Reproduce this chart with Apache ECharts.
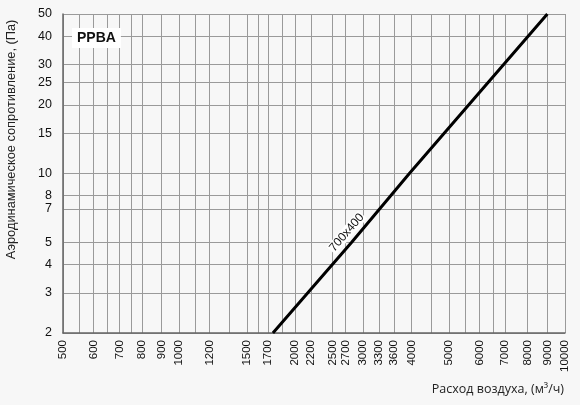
<!DOCTYPE html>
<html>
<head>
<meta charset="utf-8">
<script src="https://cdn.jsdelivr.net/npm/echarts@6/dist/echarts.min.js"></script>
<style>
  html, body { margin: 0; padding: 0; background: #f7f7f7; }
  #chart { width: 580px; height: 405px; }
</style>
</head>
<body>
<div id="chart"></div>
<script>
// расход воздуха, м3/ч
var xLabels = [500, 600, 700, 800, 900, 1000, 1200, 1500, 1700, 2000, 2200, 2500, 2700,
               3000, 3300, 3600, 4000, 5000, 6000, 7000, 8000, 9000, 10000];
var xGrid = [500, 550, 600, 650, 700, 750, 800, 900, 1000, 1100, 1200, 1350, 1500, 1600, 1700,
             1850, 2000, 2200, 2500, 2700, 3000, 3300, 3600, 4000, 4500, 5000, 5500, 6000, 6500,
             7000, 8000, 9000, 10000];
// сопротивление, Па
var yLabels = [2, 3, 4, 5, 7, 8, 10, 15, 20, 25, 30, 40, 50];

// 700x400
var flow700x400 = [1750, 2800, 3950, 9000];
var loss700x400 = [2, 5, 10, 50];

var chart = echarts.init(document.getElementById('chart'));

var lineData = flow700x400.map(function (q, i) {
    var p = { value: [q, loss700x400[i]] };
    if (i === 1) {
        p.label = {
            show: true,
            formatter: '700x400',
            rotate: 49,
            offset: [4, -10],
            position: 'inside',
            color: '#111',
            fontSize: 12,
            fontFamily: 'Liberation Sans',
            backgroundColor: '#fff',
            padding: [0, 1]
        };
    }
    return p;
});

var option = {
    backgroundColor: '#f7f7f7',
    animation: false,
    title: {
        text: 'PPBA',
        left: 72,
        top: 28,
        padding: [3, 5],
        backgroundColor: '#fff',
        textStyle: { fontSize: 14, fontWeight: 'bold', color: '#111', fontFamily: 'Liberation Sans' }
    },
    grid: { left: 63, right: 15, top: 14, bottom: 72, containLabel: false, outerBoundsMode: 'none' },
    xAxis: {
        type: 'log',
        min: 500,
        max: 10000,
        name: 'Расход воздуха, (м³/ч)',
        nameLocation: 'end',
        nameGap: -1,
        nameTextStyle: {
            align: 'right', verticalAlign: 'top', padding: [50, 0, 0, 0],
            fontSize: 12.5, color: '#222', fontFamily: 'Open Sans'
        },
        axisLine: { lineStyle: { color: '#666', width: 1.5 } },
        axisTick: { show: false, customValues: xGrid },
        axisLabel: {
            customValues: xLabels,
            rotate: 90,
            margin: 7,
            fontSize: 11.5,
            color: '#111',
            fontFamily: 'Liberation Sans',
            formatter: function (v) { return String(Math.round(v)); }
        },
        splitLine: { show: true, lineStyle: { color: '#9a9a9a', width: 1 } }
    },
    yAxis: {
        type: 'log',
        min: 2,
        max: 50,
        name: 'Аэродинамическое сопротивление, (Па)',
        nameLocation: 'middle',
        nameGap: 45,
        nameTextStyle: { fontSize: 12.8, color: '#222', fontFamily: 'Liberation Sans', padding: [0, 0, 0, 68] },
        axisLine: { show: true, lineStyle: { color: '#666', width: 1.5 } },
        axisTick: { show: false, customValues: yLabels },
        axisLabel: {
            customValues: yLabels,
            margin: 11,
            fontSize: 12.5,
            color: '#111',
            fontFamily: 'Liberation Sans',
            formatter: function (v) { return String(Math.round(v)); }
        },
        splitLine: { show: true, lineStyle: { color: '#9a9a9a', width: 1 } }
    },
    series: [{
        name: '700x400',
        type: 'line',
        data: lineData,
        showSymbol: true,
        symbol: 'circle',
        symbolSize: 0,
        lineStyle: { color: '#000', width: 3 },
        z: 3
    }]
};
chart.setOption(option);
</script>
</body>
</html>
